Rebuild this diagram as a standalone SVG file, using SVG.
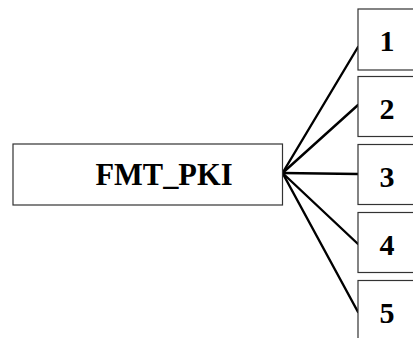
<svg xmlns="http://www.w3.org/2000/svg" width="413" height="338" viewBox="0 0 413 338">
  <style>
    .box { fill: #ffffff; stroke: #333333; stroke-width: 1.2; }
    .lbl { font-family: "Liberation Serif", "Times New Roman", serif; font-weight: bold; fill: #000000; text-anchor: middle; }
    .main { font-size: 32px; }
    .num { font-size: 30px; }
    .link { stroke: #000000; stroke-width: 2.4; fill: none; stroke-linecap: round; }
  </style>
  <rect width="413" height="338" fill="#ffffff"/>

  <!-- connectors fanning out from the main box -->
  <g id="connectors">
    <line class="link" x1="282.5" y1="173" x2="358" y2="47"/>
    <line class="link" x1="282.5" y1="173" x2="358" y2="105"/>
    <line class="link" x1="282.5" y1="173" x2="358" y2="174"/>
    <line class="link" x1="282.5" y1="173" x2="358" y2="244"/>
    <line class="link" x1="282.5" y1="173" x2="358" y2="312"/>
  </g>

  <g id="fmt_pki">
    <rect class="box" x="13" y="144" width="269.5" height="61"/>
    <text class="lbl main" x="164" y="185" textLength="137" lengthAdjust="spacingAndGlyphs">FMT_PKI</text>
  </g>

  <g id="n1">
    <rect class="box" x="358" y="9" width="70" height="61"/>
    <text class="lbl num" x="387" y="51">1</text>
  </g>
  <g id="n2">
    <rect class="box" x="358" y="76.5" width="70" height="60"/>
    <text class="lbl num" x="387" y="118.5">2</text>
  </g>
  <g id="n3">
    <rect class="box" x="358" y="144.5" width="70" height="60"/>
    <text class="lbl num" x="387" y="186.5">3</text>
  </g>
  <g id="n4">
    <rect class="box" x="358" y="212.5" width="70" height="60"/>
    <text class="lbl num" x="387" y="254.5">4</text>
  </g>
  <g id="n5">
    <rect class="box" x="358" y="280.5" width="70" height="70"/>
    <text class="lbl num" x="387" y="322.5">5</text>
  </g>
</svg>
